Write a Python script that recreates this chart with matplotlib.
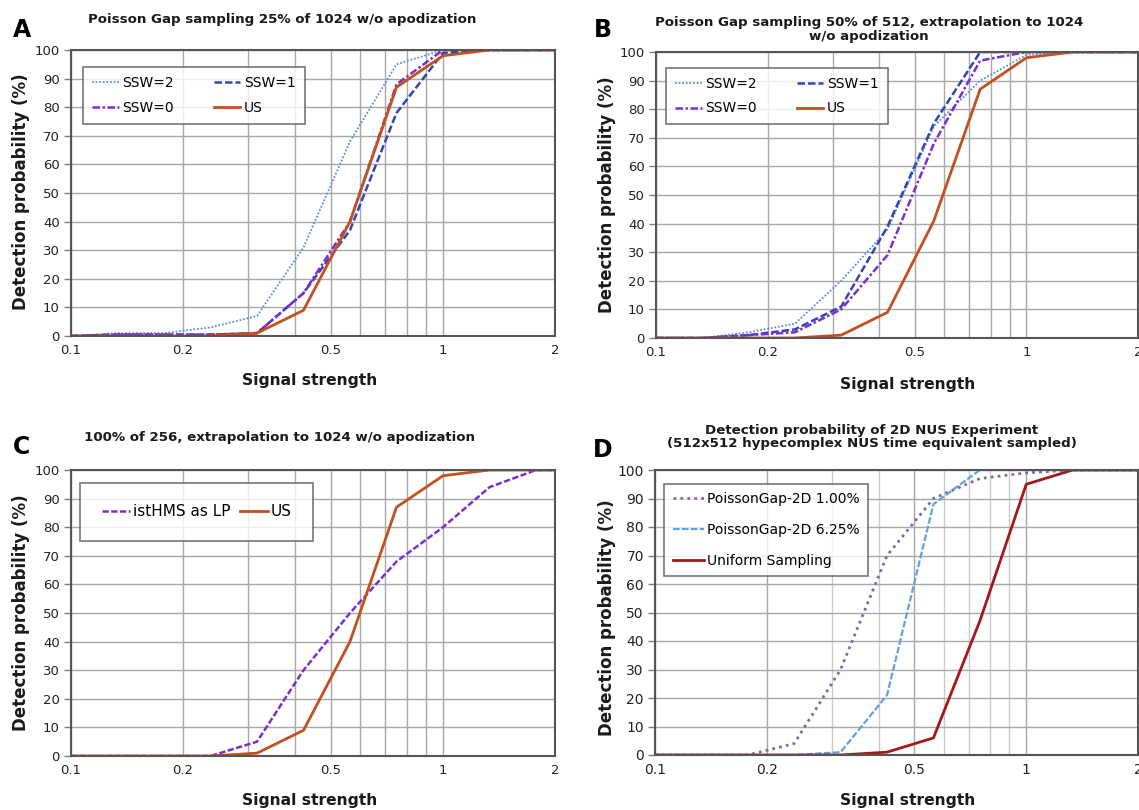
import numpy as np
import matplotlib
matplotlib.use("Agg")
import matplotlib.pyplot as plt
from matplotlib.ticker import FixedLocator, NullFormatter

plt.rcParams['font.family'] = ['DejaVu Sans']

# ---- data ----
x = [0.1, 0.1334, 0.1778, 0.2371, 0.3162, 0.4217, 0.5623, 0.7499, 1.0, 1.3335, 1.7783, 2.0]

a_ssw2 = [0, 1, 1, 3, 7, 31, 68, 95, 100, 100, 100, 100]
a_ssw1 = [0, 0.5, 0.5, 0.5, 1, 15, 37, 78, 99, 100, 100, 100]
a_ssw0 = [0, 0.5, 0.5, 0.5, 1, 15, 40, 88, 100, 100, 100, 100]
a_us = [0, 0, 0, 0, 1, 9, 40, 87, 98, 100, 100, 100]

b_ssw2 = [0, 0, 2, 5, 20, 38, 74, 90, 99, 100, 100, 100]
b_ssw1 = [0, 0, 1, 3, 11, 39, 75, 100, 100, 100, 100, 100]
b_ssw0 = [0, 0, 1, 2, 10, 29, 68, 97, 100, 100, 100, 100]
b_us = [0, 0, 0, 0, 1, 9, 41, 87, 98, 100, 100, 100]

c_ist = [0, 0, 0, 0, 5, 30, 50, 68, 80, 94, 100, 100]
c_us = [0, 0, 0, 0, 1, 9, 40, 87, 98, 100, 100, 100]

d_pg1 = [0, 0, 0, 4, 30, 70, 90, 97, 99, 100, 100, 100]
d_pg625 = [0, 0, 0, 0, 1, 21, 88, 100, 100, 100, 100, 100]
d_us = [0, 0, 0, 0, 0, 1, 6, 47, 95, 100, 100, 100]

xticks = [0.1, 0.2, 0.5, 1, 2]
xticklabels = ['0.1', '0.2', '0.5', '1', '2']
xminor = [0.3, 0.4, 0.6, 0.7, 0.8, 0.9]
yticks = list(range(0, 101, 10))

titles = {
    'A': "Poisson Gap sampling 25% of 1024 w/o apodization",
    'B': "Poisson Gap sampling 50% of 512, extrapolation to 1024\nw/o apodization",
    'C': "100% of 256, extrapolation to 1024 w/o apodization",
    'D': "Detection probability of 2D NUS Experiment\n(512x512 hypecomplex NUS time equivalent sampled)",
}

W, H = 1139, 810
fig = plt.figure(figsize=(W / 100, H / 100), dpi=100)


def ax_at(l, t, r, b):
    return fig.add_axes([l / W, 1 - b / H, (r - l) / W, (b - t) / H])


def fpos(px, py):
    return px / W, 1 - py / H


def style(ax, minor_light=False, tsize=9.5):
    ax.set_xscale('log')
    ax.set_xlim(0.1, 2)
    ax.set_ylim(0, 100)
    ax.xaxis.set_major_locator(FixedLocator(xticks))
    ax.set_xticklabels(xticklabels)
    ax.xaxis.set_minor_locator(FixedLocator(xminor))
    ax.xaxis.set_minor_formatter(NullFormatter())
    ax.set_yticks(yticks)
    ax.tick_params(axis='x', which='both', length=0, labelsize=tsize, colors='#222222', pad=6)
    ax.tick_params(axis='y', length=5, width=1, color='#808080', labelsize=tsize, labelcolor='#222222', pad=3)
    ax.grid(True, which='major', color='#a8a8a8', lw=1.0)
    ax.grid(True, which='minor', axis='x', color='#cacaca' if minor_light else '#a8a8a8', lw=1.0)
    for s in ax.spines.values():
        s.set_color('#555555')
        s.set_linewidth(1.5)
    ax.set_axisbelow(True)


def labels(ax, cx, ylx, yly, xly):
    fig.text(*fpos(cx, xly), "Signal strength", ha='center', va='center',
             fontsize=11.2, fontweight='bold', color='#1a1a1a')
    fig.text(*fpos(ylx, yly), "Detection probability (%)", ha='center', va='center',
             rotation=90, fontsize=12, fontweight='bold', color='#1a1a1a')


def four_legend(ax, h, anchor):
    # order so that rows read: SSW=2, SSW=1 / SSW=0, US
    hs = [h[0], h[2], h[1], h[3]]
    leg = ax.legend(handles=hs, loc='upper left', bbox_to_anchor=anchor, borderaxespad=0,
                    ncol=2, fontsize=10, frameon=True, fancybox=False, edgecolor='#555555',
                    handlelength=1.9, handletextpad=0.25, columnspacing=2.9, borderpad=0.65,
                    labelspacing=0.75)
    leg.get_frame().set_linewidth(1.2)


# Panel A
axA = ax_at(71, 50, 555, 336)
style(axA)
h = []
h += axA.plot(x, a_ssw2, color='#5a8ee0', ls=(0, (1, 1)), lw=1.3, label='SSW=2')
h += axA.plot(x, a_ssw1, color='#3344b8', ls=(0, (3, 1.2)), lw=1.8, label='SSW=1')
h += axA.plot(x, a_ssw0, color='#7a2fd0', ls=(0, (3, 1, 1, 1)), lw=1.8, label='SSW=0')
h += axA.plot(x, a_us, color='#c4501c', ls='-', lw=2.0, label='US')
four_legend(axA, h, (0.025, 0.94))

# Panel B
axB = ax_at(656, 52, 1138, 338)
style(axB)
h = []
h += axB.plot(x, b_ssw2, color='#5a8ee0', ls=(0, (1, 1)), lw=1.3, label='SSW=2')
h += axB.plot(x, b_ssw1, color='#3344b8', ls=(0, (3, 1.2)), lw=1.8, label='SSW=1')
h += axB.plot(x, b_ssw0, color='#7a2fd0', ls=(0, (3, 1, 1, 1)), lw=1.8, label='SSW=0')
h += axB.plot(x, b_us, color='#c4501c', ls='-', lw=2.0, label='US')
four_legend(axB, h, (0.021, 0.944))

# Panel C
axC = ax_at(71, 470, 555, 756)
style(axC)
axC.plot(x, c_ist, color='#7a2fd0', ls=(0, (2.5, 1)), lw=1.8, label='istHMS as LP')
axC.plot(x, c_us, color='#c4501c', ls='-', lw=2.0, label='US')
legC = axC.legend(loc='upper left', bbox_to_anchor=(0.019, 0.955), borderaxespad=0,
                  ncol=2, fontsize=11, frameon=True, fancybox=False, edgecolor='#555555',
                  handlelength=1.85, handletextpad=0.2, columnspacing=0.6, borderpad=1.4)
legC.get_frame().set_linewidth(1.2)

# Panel D
axD = ax_at(655, 470, 1138, 755)
style(axD, minor_light=True, tsize=10)
axD.plot(x, d_pg1, color='#8566a8', ls=(0, (1, 1.5)), lw=2.0, label='PoissonGap-2D 1.00%')
axD.plot(x, d_pg625, color='#5fa3e2', ls=(0, (3, 1)), lw=1.6, label='PoissonGap-2D 6.25%')
axD.plot(x, d_us, color='#a11a1a', ls='-', lw=2.0, label='Uniform Sampling')
legD = axD.legend(loc='upper left', bbox_to_anchor=(0.019, 0.951), borderaxespad=0,
                  ncol=1, fontsize=10, frameon=True, fancybox=False, edgecolor='#555555',
                  handlelength=2.3, handletextpad=0.2, borderpad=0.6, labelspacing=1.2)
legD.get_frame().set_linewidth(1.2)

# Titles
tkw = dict(ha='center', va='center', fontsize=9.6, fontweight='bold', color='#1a1a1a')
fig.text(*fpos(282, 20), titles['A'], **tkw)
fig.text(*fpos(869, 29.5), titles['B'], linespacing=1.05, **tkw)
fig.text(*fpos(280, 437), titles['C'], **tkw)
fig.text(*fpos(872, 437), titles['D'], linespacing=1.0, **tkw)

# Panel letters
for letter, (px_, py_) in {'A': (22, 30), 'B': (603, 30), 'C': (22, 447), 'D': (603, 450)}.items():
    fig.text(*fpos(px_, py_), letter, ha='center', va='center', fontsize=17, fontweight='bold', color='black')

labels(axA, 310, 21, 192, 381)
labels(axB, 908, 607, 195, 384)
labels(axC, 310, 21, 613, 801)
labels(axD, 908, 607, 618, 801)

fig.savefig('out.png', dpi=100)
